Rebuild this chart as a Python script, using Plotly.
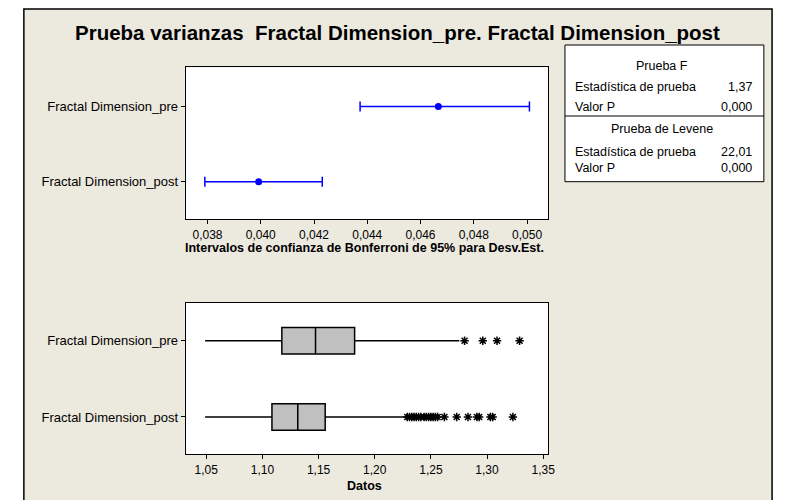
import plotly.graph_objects as go

# Intervalos de confianza de Bonferroni (95%) para la desviación estándar
grupos = ["Fractal Dimension_pre", "Fractal Dimension_post"]
ci_inferior = [0.04373, 0.03790]
ci_estimado = [0.04667, 0.03992]
ci_superior = [0.05009, 0.04231]

# Resumen de cajas (Datos)
box_q1 = [1.1173, 1.1085]
box_mediana = [1.1473, 1.1315]
box_q3 = [1.1821, 1.1559]
box_min = [1.049, 1.049]
box_max = [1.2753, 1.2274]

# Valores atípicos
atipicos_pre = [1.2800, 1.2962, 1.3089, 1.3290]
atipicos_post = [1.2290, 1.2310, 1.2330, 1.2350, 1.2370, 1.2390, 1.2410,
                 1.2440, 1.2460, 1.2480, 1.2500, 1.2520, 1.2540, 1.2560,
                 1.2620, 1.2730, 1.2830, 1.2910, 1.2930, 1.3030, 1.3050,
                 1.3230]

# Tabla de pruebas
prueba_f = ("1,37", "0,000")
prueba_levene = ("22,01", "0,000")

# la página tiene 8px de margen en body, así que la figura se corre
OFF = 8
W, H = 787 - OFF, 500 - OFF
BG = "#ECE9DF"
FONT = "Liberation Sans"
pos = [1, 0]  # pre arriba, post abajo


def px(x):
    return (x - OFF) / W


def py(y):
    return 1 - (y - OFF) / H


fig = go.Figure()

# panel superior: intervalos
fig.add_trace(go.Scatter(
    x=ci_estimado, y=pos, mode="markers",
    marker=dict(color="#0000FF", size=7),
    error_x=dict(type="data", symmetric=False,
                 array=[u - e for u, e in zip(ci_superior, ci_estimado)],
                 arrayminus=[e - l for e, l in zip(ci_estimado, ci_inferior)],
                 color="#0000FF", thickness=1.5, width=5),
    xaxis="x", yaxis="y", showlegend=False, hoverinfo="skip"))

# panel inferior: cajas
for i in range(2):
    fig.add_trace(go.Box(
        y=[pos[i]], q1=[box_q1[i]], median=[box_mediana[i]], q3=[box_q3[i]],
        lowerfence=[box_min[i]], upperfence=[box_max[i]],
        orientation="h", width=0.35, fillcolor="#C0C0C0",
        line=dict(color="black", width=1.5), whiskerwidth=0,
        boxpoints=False, xaxis="x2", yaxis="y2", showlegend=False))

for vals, p in [(atipicos_pre, pos[0]), (atipicos_post, pos[1])]:
    fig.add_trace(go.Scatter(
        x=vals, y=[p] * len(vals), mode="markers",
        marker=dict(symbol="asterisk-open", size=7, color="black",
                    line=dict(color="black", width=1.5)),
        xaxis="x2", yaxis="y2", showlegend=False))

xdom = [px(187.3), px(552.7)]
ax_common = dict(showline=True, linecolor="black", linewidth=1, mirror=True,
                 ticks="outside", ticklen=4, tickcolor="black",
                 showgrid=False, zeroline=False)
xfont = dict(family=FONT, size=12, color="black")
yfont = dict(family=FONT, size=13, color="black")

fig.update_layout(
    width=W, height=H,
    margin=dict(l=0, r=0, t=0, b=0),
    paper_bgcolor=BG, plot_bgcolor="white",
    separators=",.",
    font=dict(family=FONT, color="black"),
    xaxis=dict(domain=xdom, range=[0.03718, 0.05078], tick0=0.038,
               dtick=0.002, tickformat=".3f", anchor="y", tickfont=xfont,
               **ax_common),
    yaxis=dict(domain=[py(219.3), py(67.3)], range=[-0.5, 1.52],
               tickvals=pos, ticktext=grupos, anchor="x", tickfont=yfont,
               **ax_common),
    xaxis2=dict(domain=xdom, range=[1.0317, 1.3541], tick0=1.05,
                dtick=0.05, tickformat=".2f", anchor="y2", tickfont=xfont,
                **ax_common),
    yaxis2=dict(domain=[py(454.3), py(302.7)], range=[-0.49, 1.5],
                tickvals=pos, ticktext=grupos, anchor="x2", tickfont=yfont,
                **ax_common),
)

# marco exterior
white_strips = [(OFF, OFF, 24, 500), (779, OFF, 787, 500), (OFF, OFF, 787, 9)]
for x0, y0, x1, y1 in white_strips:
    fig.add_shape(type="rect", xref="paper", yref="paper",
                  x0=px(x0), x1=px(x1), y0=py(y1), y1=py(y0),
                  fillcolor="white", line=dict(width=0), layer="above")
fig.add_shape(type="rect", xref="paper", yref="paper",
              x0=px(24), x1=px(779), y0=-0.05, y1=py(9),
              line=dict(color="black", width=1.5), layer="above")

# tabla
fig.add_shape(type="rect", xref="paper", yref="paper",
              x0=px(570), x1=px(770.7), y0=py(181.7), y1=py(45),
              fillcolor="white", line=dict(color="black", width=1))
fig.add_shape(type="line", xref="paper", yref="paper",
              x0=px(570), x1=px(770.7), y0=py(116), y1=py(116),
              line=dict(color="black", width=1))


def txt(x, y, s, anchor="center", size=12, bold=False):
    fig.add_annotation(x=px(x), y=py(y), xref="paper", yref="paper",
                       text=f"<b>{s}</b>" if bold else s, showarrow=False,
                       xanchor=anchor, yanchor="middle",
                       font=dict(family=FONT, size=size, color="black"))


txt(668, 66, "Prueba F", size=12.5)
txt(578, 86.7, "Estadística de prueba", "left", size=12.5)
txt(761, 86.7, prueba_f[0], "right", size=12.5)
txt(578, 106.7, "Valor P", "left", size=12.5)
txt(761, 106.7, prueba_f[1], "right", size=12.5)
txt(668, 129.3, "Prueba de Levene", size=12.5)
txt(578, 151.7, "Estadística de prueba", "left", size=12.5)
txt(761, 151.7, prueba_levene[0], "right", size=12.5)
txt(578, 168.3, "Valor P", "left", size=12.5)
txt(761, 168.3, prueba_levene[1], "right", size=12.5)

txt(401, 32, "Prueba varianzas  Fractal Dimension_pre. Fractal Dimension_post",
    size=20.5, bold=True)
txt(368, 248, "Intervalos de confianza de Bonferroni de 95% para Desv.Est.",
    size=12.5, bold=True)
txt(368, 486, "Datos", size=12.5, bold=True)

fig.write_html("out.html")
